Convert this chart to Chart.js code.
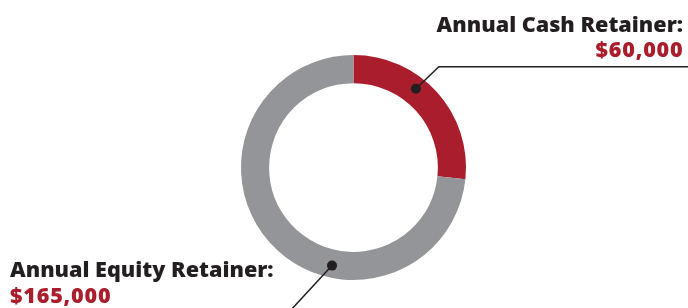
<!DOCTYPE html>
<html>
<head>
<meta charset="utf-8">
<script src="https://cdn.jsdelivr.net/npm/chart.js@4.4.1/dist/chart.umd.min.js"></script>
<style>
  html, body { margin: 0; padding: 0; background: #fff; }
  #wrap { width: 688px; height: 308px; position: relative; }
</style>
</head>
<body>
<div id="wrap"><canvas id="retainerChart"></canvas></div>
<script>
const labels = ['Annual Cash Retainer:', 'Annual Equity Retainer:'];
const amounts = [60000, 165000];
const colors = ['#a91d2c', '#939598'];

const INK = '#231f20';
const LABEL_FONT = '800 21.6px "Open Sans"';

// where the callout dot sits along each slice (fraction of the slice, clockwise)
const dotAt = [0.4, 0.365];

const callouts = {
	id: 'callouts',
	afterDraw(chart) {
		const ctx = chart.ctx;
		const arcs = chart.getDatasetMeta(0).data;
		const dots = arcs.map((arc, i) => {
			const p = arc.getProps(['x', 'y', 'startAngle', 'endAngle', 'innerRadius', 'outerRadius'], true);
			const a = p.startAngle + (p.endAngle - p.startAngle) * dotAt[i];
			const r = (p.innerRadius + p.outerRadius) / 2 + 2;
			return { x: p.x + Math.cos(a) * r, y: p.y + Math.sin(a) * r };
		});

		ctx.save();
		ctx.strokeStyle = INK;
		ctx.lineWidth = 1.5;

		// cash retainer: diagonal up-right then flat to the edge
		const d0 = dots[0];
		ctx.beginPath();
		ctx.moveTo(d0.x, d0.y);
		ctx.lineTo(d0.x + 23, d0.y - 22);
		ctx.lineTo(chart.width, d0.y - 22);
		ctx.stroke();

		// equity retainer: diagonal down-left off the bottom
		const d1 = dots[1];
		ctx.beginPath();
		ctx.moveTo(d1.x, d1.y);
		ctx.lineTo(d1.x - 50, d1.y + 54);
		ctx.stroke();

		ctx.fillStyle = INK;
		dots.forEach((d) => {
			ctx.beginPath();
			ctx.arc(d.x, d.y, 5, 0, Math.PI * 2);
			ctx.fill();
		});

		const money = (v) => '$' + v.toLocaleString('en-US');

		ctx.font = LABEL_FONT;
		ctx.textBaseline = 'alphabetic';
		ctx.textAlign = 'right';
		ctx.fillStyle = INK;
		ctx.fillText(labels[0], 683, 32);
		ctx.letterSpacing = '0.8px';
		ctx.fillStyle = colors[0];
		ctx.fillText(money(amounts[0]), 683.5, 57);

		ctx.textAlign = 'left';
		ctx.letterSpacing = '0px';
		ctx.fillStyle = INK;
		ctx.fillText(labels[1], 10, 277);
		ctx.letterSpacing = '0.8px';
		ctx.fillStyle = colors[0];
		ctx.fillText(money(amounts[1]), 10, 303);
		ctx.restore();
	}
};

new Chart(document.getElementById('retainerChart'), {
	type: 'doughnut',
	data: {
		labels: labels,
		datasets: [
			{
				data: amounts,
				backgroundColor: colors,
				borderWidth: 0,
				hoverOffset: 0,
			},
		],
	},
	options: {
		responsive: true,
		maintainAspectRatio: false,
		animation: false,
		cutout: '75%',
		layout: {
			padding: { top: 55, bottom: 28, left: 241, right: 222 },
		},
		plugins: {
			legend: { display: false },
			tooltip: { enabled: false },
		},
	},
	plugins: [callouts],
});
</script>
</body>
</html>
